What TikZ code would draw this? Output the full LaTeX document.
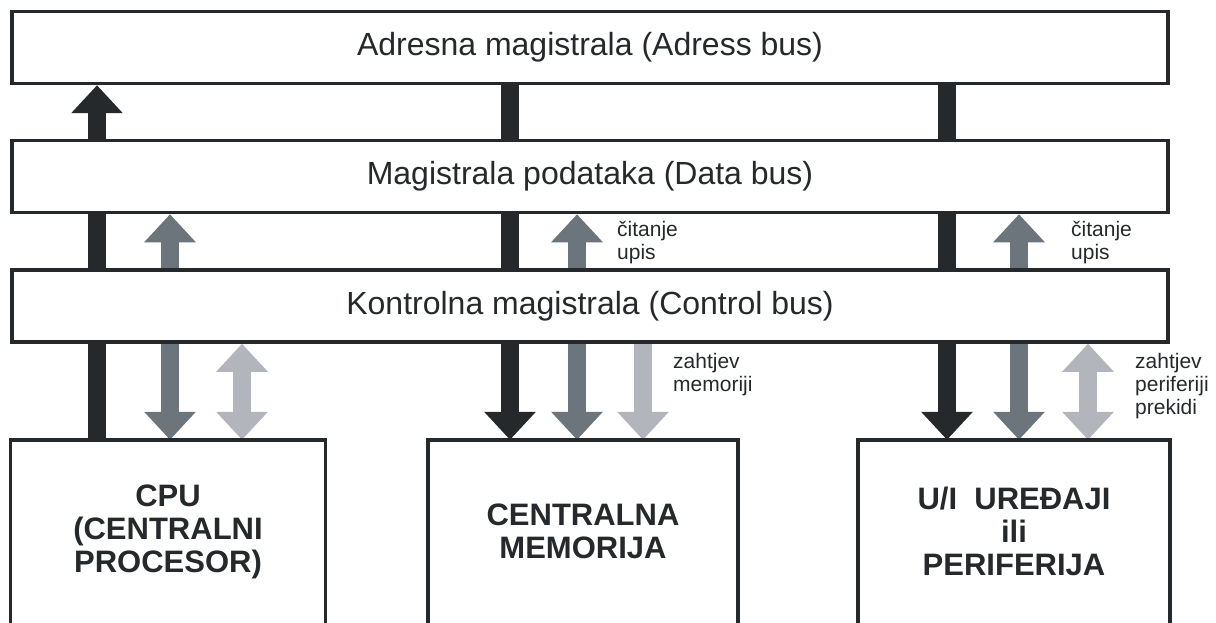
\documentclass[tikz,border=0pt]{standalone}
\usepackage{fontspec}
\setmainfont{Liberation Sans}
\usetikzlibrary{arrows.meta,backgrounds}
\definecolor{busblack}{HTML}{25292B}
\definecolor{busgray}{HTML}{6D757C}
\definecolor{buslight}{HTML}{B2B5BC}

\begin{document}
\begin{tikzpicture}[x=1pt,y=-1pt,>={Triangle[width=50pt,length=28pt]},
										bus/.style={draw=busblack, line width=3.5pt, fill=white, inner sep=0pt,
																minimum width=1156pt, minimum height=72pt,
																text=busblack, font=\fontsize{32}{38}\selectfont},
										unit/.style={minimum height=183pt, inner sep=0pt, align=center,
																 text=busblack, font=\fontsize{31}{33}\selectfont\bfseries},
										frame/.style={draw=busblack, line width=3.5pt},
										wide/.style={line width=18pt},
										note/.style={anchor=north west, inner sep=0pt, align=left,
																 text=busblack, font=\fontsize{21}{23}\selectfont}]
	\useasboundingbox (0,0) rectangle (1216,623);
	\node [bus] (adr) at (590,47.5) {Adresna magistrala (Adress bus)};
	\node [bus] (dat) at (590,176.5) {Magistrala podataka (Data bus)};
	\node [bus] (ctl) at (590,306) {Kontrolna magistrala (Control bus)};
	\node [unit, minimum width=315pt] (cpu) at (168,531.5) {CPU\\(CENTRALNI\\PROCESOR)};
	\node [unit, minimum width=310pt] (mem) at (583,531.5) {CENTRALNA\\MEMORIJA};
	\node [unit, minimum width=312pt] (per) at (1014,531.5) {U/I~ UREĐAJI\\ili\\PERIFERIJA};
	\draw [frame] (cpu.south west) |- (cpu.north east) -- (cpu.south east);
	\draw [frame] (mem.south west) |- (mem.north east) -- (mem.south east);
	\draw [frame] (per.south west) |- (per.north east) -- (per.south east);

	\coordinate (c1) at (97,0);
	\coordinate (c2) at (170,0);
	\coordinate (c3) at (242,0);
	\coordinate (c4) at (510,0);
	\coordinate (c5) at (577,0);
	\coordinate (c6) at (643,0);
	\coordinate (c7) at (947,0);
	\coordinate (c8) at (1019,0);
	\coordinate (c9) at (1088,0);

	\begin{scope}[on background layer]
		\draw [wide, busblack] (cpu.north -| c1) -- (ctl.south -| c1);
		\draw [wide, busblack] (ctl.north -| c1) -- (dat.south -| c1);
		\draw [wide, busblack, ->] (dat.north -| c1) -- (adr.south -| c1);
		\draw [wide, busgray, ->] (ctl.north -| c2) -- (dat.south -| c2);
		\draw [wide, busgray, ->] (ctl.south -| c2) -- (cpu.north -| c2);
		\draw [wide, buslight, <->] (ctl.south -| c3) -- (cpu.north -| c3);

		\draw [wide, busblack] (adr.south -| c4) -- (dat.north -| c4);
		\draw [wide, busblack] (dat.south -| c4) -- (ctl.north -| c4);
		\draw [wide, busblack, ->] (ctl.south -| c4) -- (mem.north -| c4);
		\draw [wide, busgray, ->] (ctl.north -| c5) -- (dat.south -| c5);
		\draw [wide, busgray, ->] (ctl.south -| c5) -- (mem.north -| c5);
		\draw [wide, buslight, ->] (ctl.south -| c6) -- (mem.north -| c6);

		\draw [wide, busblack] (adr.south -| c7) -- (dat.north -| c7);
		\draw [wide, busblack] (dat.south -| c7) -- (ctl.north -| c7);
		\draw [wide, busblack, ->] (ctl.south -| c7) -- (per.north -| c7);
		\draw [wide, busgray, ->] (ctl.north -| c8) -- (dat.south -| c8);
		\draw [wide, busgray, ->] (ctl.south -| c8) -- (per.north -| c8);
		\draw [wide, buslight, <->] (ctl.south -| c9) -- (per.north -| c9);
	\end{scope}

	\node [note] (rwmem) at (617,221) {čitanje\\upis};
	\node [note] (rwper) at (1071,221) {čitanje\\upis};
	\node [note] (reqmem) at (673,353) {zahtjev\\memoriji};
	\node [note] (reqper) at (1135,353) {zahtjev\\periferiji\\prekidi};
\end{tikzpicture}
\end{document}
